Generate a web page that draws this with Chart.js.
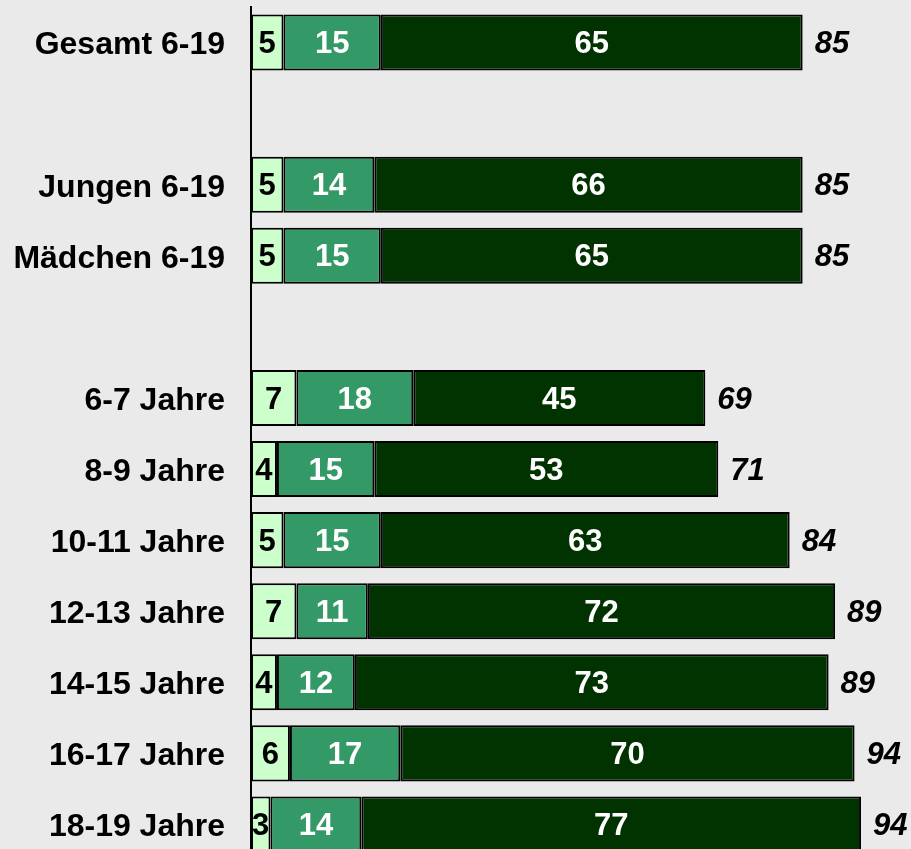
<!DOCTYPE html>
<html>
<head>
<meta charset="utf-8">
<script src="https://cdn.jsdelivr.net/npm/chart.js@4/dist/chart.umd.min.js"></script>
<style>
  html, body { margin: 0; padding: 0; background: #eaeaea; overflow: hidden; }
  canvas { display: block; }
</style>
</head>
<body>
<canvas id="chart" width="911" height="860"></canvas>
<script>
const categories = ['Gesamt 6-19', '', 'Jungen 6-19', 'Mädchen 6-19', '', '6-7 Jahre', '8-9 Jahre',
    '10-11 Jahre', '12-13 Jahre', '14-15 Jahre', '16-17 Jahre', '18-19 Jahre'];
const seriesA = [5, null, 5, 5, null, 7, 4, 5, 7, 4, 6, 3];
const seriesB = [15, null, 14, 15, null, 18, 15, 15, 11, 12, 17, 14];
const seriesC = [65, null, 66, 65, null, 45, 53, 63, 72, 73, 70, 77];
const totals = [85, null, 85, 85, null, 69, 71, 84, 89, 89, 94, 94];

const FONT = '"Liberation Sans", Arial, sans-serif';

const labelPlugin = {
    id: 'barLabels',
    afterDatasetsDraw(chart) {
        const ctx = chart.ctx;
        ctx.save();
        ctx.textBaseline = 'middle';
        chart.data.datasets.forEach((ds, di) => {
            const meta = chart.getDatasetMeta(di);
            meta.data.forEach((bar, i) => {
                const v = ds.data[i];
                if (v == null) return;
                const left = Math.min(bar.x, bar.base);
                const right = Math.max(bar.x, bar.base);
                ctx.font = 'bold 31px ' + FONT;
                ctx.textAlign = 'center';
                ctx.fillStyle = ds.textColor;
                ctx.fillText(String(v), (left + right) / 2, bar.y + 2);
            });
        });
        // totals after the last segment
        const last = chart.getDatasetMeta(chart.data.datasets.length - 1);
        last.data.forEach((bar, i) => {
            if (totals[i] == null) return;
            ctx.font = 'italic bold 31px ' + FONT;
            ctx.textAlign = 'left';
            ctx.fillStyle = '#000';
            ctx.fillText(String(totals[i]), Math.max(bar.x, bar.base) + 12, bar.y + 2);
        });
        ctx.restore();
    }
};

const ctx = document.getElementById('chart').getContext('2d');
new Chart(ctx, {
    type: 'bar',
    data: {
        labels: categories,
        datasets: [
            { data: seriesA, backgroundColor: '#ccffcc', textColor: '#000' },
            { data: seriesB, backgroundColor: '#339966', textColor: '#fff' },
            { data: seriesC, backgroundColor: '#003300', textColor: '#fff' }
        ].map(d => Object.assign(d, {
            borderColor: '#000',
            borderWidth: 2,
            borderSkipped: false,
            barPercentage: 0.79,
            categoryPercentage: 1
        }))
    },
    options: {
        indexAxis: 'y',
        responsive: false,
        animation: false,
        layout: { padding: { top: 7, right: 11, bottom: 0, left: 0 } },
        plugins: { legend: { display: false }, tooltip: { enabled: false } },
        scales: {
            x: {
                stacked: true,
                display: false,
                min: 0,
                max: 100
            },
            y: {
                stacked: true,
                afterFit(scale) {
                    scale.width = 251;
                    scale.paddingTop = 0;
                    scale.paddingBottom = 0;
                },
                grid: { display: false, drawTicks: false },
                border: { display: true, color: '#000', width: 2 },
                ticks: {
                    padding: 26,
                    labelOffset: 3,
                    color: '#000',
                    font: { family: FONT, size: 32, weight: 'bold' }
                }
            }
        }
    },
    plugins: [labelPlugin]
});
</script>
</body>
</html>
